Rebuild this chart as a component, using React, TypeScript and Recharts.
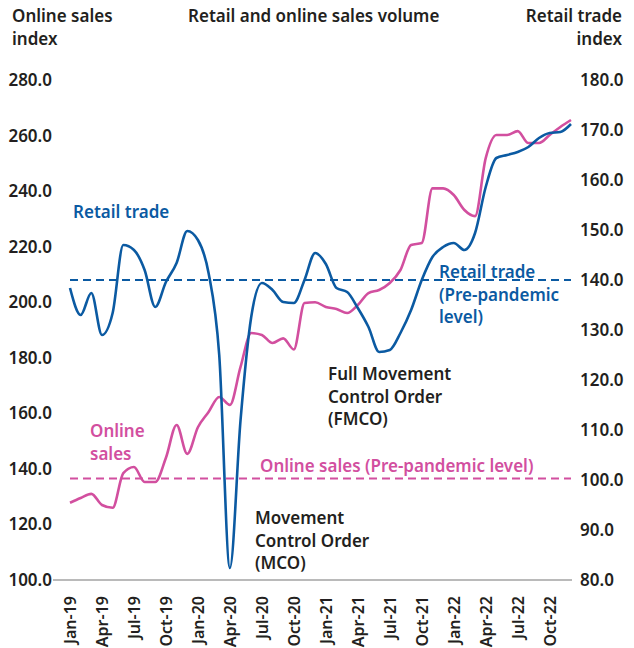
import React from "react";
import {
  ComposedChart,
  Line,
  XAxis,
  YAxis,
  ReferenceLine,
} from "recharts";

const months = [
  "Jan-19", "Feb-19", "Mar-19", "Apr-19", "May-19", "Jun-19", "Jul-19", "Aug-19", "Sep-19", "Oct-19", "Nov-19", "Dec-19",
  "Jan-20", "Feb-20", "Mar-20", "Apr-20", "May-20", "Jun-20", "Jul-20", "Aug-20", "Sep-20", "Oct-20", "Nov-20", "Dec-20",
  "Jan-21", "Feb-21", "Mar-21", "Apr-21", "May-21", "Jun-21", "Jul-21", "Aug-21", "Sep-21", "Oct-21", "Nov-21", "Dec-21",
  "Jan-22", "Feb-22", "Mar-22", "Apr-22", "May-22", "Jun-22", "Jul-22", "Aug-22", "Sep-22", "Oct-22", "Nov-22", "Dec-22",
];

// right axis
const retailTrade = [
  138.4, 133.0, 137.4, 129.0, 133.4, 147.0, 146.0, 142.0, 134.6, 139.6, 143.4, 149.8,
  148.0, 141.4, 125.0, 82.4, 112.0, 132.6, 139.4, 138.0, 135.6, 135.4, 140.0, 145.4,
  143.2, 138.4, 137.6, 134.4, 130.6, 125.6, 126.0, 129.4, 134.0, 140.0, 144.6, 146.6,
  147.4, 146.0, 149.4, 158.6, 164.4, 165.0, 165.6, 166.6, 168.4, 169.4, 169.6, 171.2,
];

// left axis
const onlineSales = [
  127.8, 129.5, 131.0, 127.0, 126.0, 138.5, 140.7, 135.3, 135.3, 144.0, 155.8, 145.4,
  155.0, 160.5, 165.9, 163.0, 176.7, 188.9, 188.2, 185.3, 187.0, 183.0, 199.7, 200.0,
  198.3, 197.6, 196.1, 199.0, 203.3, 204.4, 206.9, 211.6, 220.6, 221.3, 241.0, 241.0,
  238.6, 233.2, 231.0, 251.9, 260.2, 260.2, 261.6, 257.3, 257.3, 260.2, 263.1, 265.6,
];

const leftTicks = [100, 120, 140, 160, 180, 200, 220, 240, 260, 280];
const rightTicks = [80, 90, 100, 110, 120, 130, 140, 150, 160, 170, 180];

const retailPrePandemic = 140;
const onlinePrePandemic = 136.5;

const BLUE = "#0b5aa2";
const PINK = "#d24f9f";
const DARK = "#231f20";
const FONT = "'Noto Sans', sans-serif";

const data = months.map((m, i) => ({
  month: m,
  retail: retailTrade[i],
  online: onlineSales[i],
}));

const tickStyle = { fontSize: 17, fontWeight: 600, fill: DARK, fontFamily: FONT };

function MonthTick(props: any) {
  const { x, y, payload } = props;
  return (
    <text
      x={x}
      y={y}
      transform={`rotate(-90, ${x}, ${y})`}
      textAnchor="end"
      dominantBaseline="central"
      style={{ fontSize: 16, fontWeight: 600, fill: DARK, fontFamily: FONT }}
    >
      {payload.value}
    </text>
  );
}

function Note({ x, y, color, lines, align = "left" }: any) {
  return (
    <div
      style={{
        position: "absolute",
        left: align === "left" ? x : undefined,
        right: align === "right" ? x : undefined,
        top: y,
        color,
        fontFamily: FONT,
        fontWeight: 600,
        fontSize: 17,
        lineHeight: "22.5px",
        textAlign: align,
        whiteSpace: "nowrap",
      }}
    >
      {lines.map((l: string, i: number) => (
        <div key={i}>{l}</div>
      ))}
    </div>
  );
}

export default function App() {
  return (
    <div style={{ position: "absolute", left: 0, top: 0, width: 634, height: 648, background: "#fff" }}>
      <ComposedChart
        width={634}
        height={648}
        data={data}
        margin={{ top: 80, right: 0, bottom: 0, left: 0 }}
      >
        <XAxis
          dataKey="month"
          interval={2}
          padding={{ left: 17, right: 1 }}
          tickLine={false}
          axisLine={{ stroke: "#777", strokeWidth: 1.2 }}
          tick={<MonthTick />}
          tickMargin={10}
          height={68}
        />
        <YAxis
          yAxisId="left"
          orientation="left"
          domain={[100, 280]}
          ticks={leftTicks}
          tickFormatter={(v: number) => v.toFixed(1)}
          axisLine={false}
          tickLine={false}
          tickSize={0}
          tickMargin={1}
          width={53}
          tick={tickStyle}
        />
        <YAxis
          yAxisId="right"
          orientation="right"
          domain={[80, 180]}
          ticks={rightTicks}
          tickFormatter={(v: number) => v.toFixed(1)}
          axisLine={false}
          tickLine={false}
          tickSize={0}
          tickMargin={8}
          width={62}
          tick={tickStyle}
        />
        <ReferenceLine
          yAxisId="right"
          segment={[{ x: "Jan-19", y: retailPrePandemic }, { x: "Dec-22", y: retailPrePandemic }]}
          stroke={BLUE}
          strokeWidth={2}
          strokeDasharray="8 5"
        />
        <ReferenceLine
          yAxisId="left"
          segment={[{ x: "Jan-19", y: onlinePrePandemic }, { x: "Dec-22", y: onlinePrePandemic }]}
          stroke={PINK}
          strokeWidth={2}
          strokeDasharray="8 5"
        />
        <Line
          yAxisId="left"
          type="monotone"
          dataKey="online"
          stroke={PINK}
          strokeWidth={2.6}
          dot={false}
          isAnimationActive={false}
        />
        <Line
          yAxisId="right"
          type="monotone"
          dataKey="retail"
          stroke={BLUE}
          strokeWidth={2.6}
          dot={false}
          isAnimationActive={false}
        />
      </ComposedChart>

      <Note x={12} y={5} color={DARK} lines={["Online sales", "index"]} />
      <Note x={188} y={5} color={DARK} lines={["Retail and online sales volume"]} />
      <Note x={12} y={5} color={DARK} lines={["Retail trade", "index"]} align="right" />

      <Note x={73} y={201} color={BLUE} lines={["Retail trade"]} />
      <Note x={439} y={261} color={BLUE} lines={["Retail trade", "(Pre-pandemic", "level)"]} />
      <Note x={328} y={363} color={DARK} lines={["Full Movement", "Control Order", "(FMCO)"]} />
      <Note x={90} y={420} color={PINK} lines={["Online", "sales"]} />
      <Note x={260} y={455} color={PINK} lines={["Online sales (Pre-pandemic level)"]} />
      <Note x={255} y={507} color={DARK} lines={["Movement", "Control Order", "(MCO)"]} />
    </div>
  );
}
